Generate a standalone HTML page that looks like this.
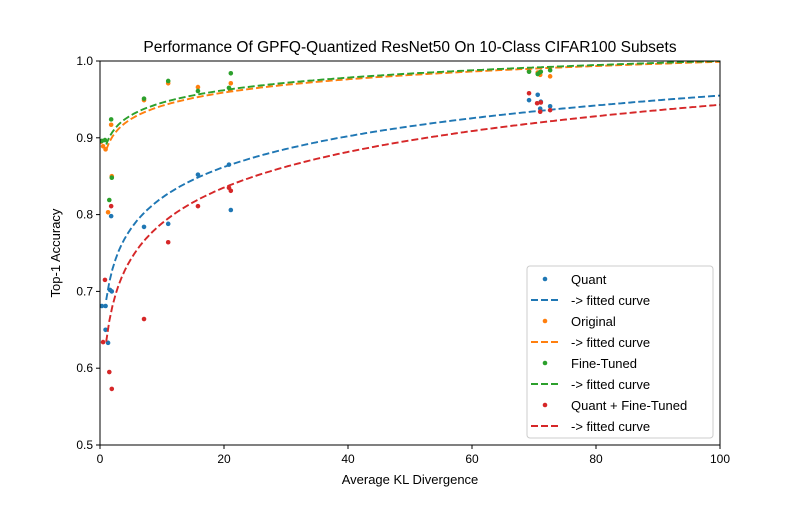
<!DOCTYPE html>
<html><head><meta charset="utf-8"><style>
body{margin:0;background:#fff}
svg{font-family:"Liberation Sans","DejaVu Sans",sans-serif}
</style></head><body>
<svg id="c" width="800" height="500" xmlns="http://www.w3.org/2000/svg"></svg>
<script>
const quantX=[0.3,0.9,0.9,1.3,1.6,1.9,1.8,7.1,11,15.8,20.8,21.1,69.2,70.6,71.1,72.6,71];
const quantY=[0.681,0.681,0.650,0.633,0.702,0.700,0.798,0.784,0.788,0.852,0.865,0.806,0.949,0.956,0.947,0.941,0.938];
const origX=[0.2,0.5,0.9,1.3,1.9,1.8,7.1,11,15.8,21,21.1,69.2,70.6,71,72.6];
const origY=[0.895,0.889,0.885,0.803,0.850,0.917,0.949,0.971,0.966,0.962,0.971,0.987,0.985,0.982,0.980];
const ftX=[0.3,0.8,1.5,1.9,1.8,7.1,11,15.8,20.8,21.1,69.2,70.6,71.1,72.6,70.9];
const ftY=[0.896,0.897,0.819,0.848,0.924,0.951,0.974,0.961,0.965,0.984,0.986,0.983,0.986,0.988,0.985];
const qftX=[0.8,0.5,1.5,1.9,1.8,7.1,11,15.8,20.8,21.1,69.2,70.5,71.1,71,72.6];
const qftY=[0.715,0.634,0.595,0.573,0.811,0.664,0.764,0.811,0.835,0.831,0.958,0.945,0.946,0.934,0.936];
const fitA=[0.955,0.999,1.0,0.943];
const fitB=[0.0578,0.0249,0.0236,0.067];
const colors=['#1f77b4','#ff7f0e','#2ca02c','#d62728'];
const names=['Quant','Original','Fine-Tuned','Quant + Fine-Tuned'];
const xTicks=[0,20,40,60,80,100];
const yTicks=[0.5,0.6,0.7,0.8,0.9,1.0];
const NS='http://www.w3.org/2000/svg';
const svg=document.getElementById('c');
const L=100,R=720,T=61,B=445;
const xs=v=>L+(v-0)/100*(R-L);
const ys=v=>B-(v-0.5)/0.5*(B-T);
function mk(t,a,p){const e=document.createElementNS(NS,t);for(const k in a)e.setAttribute(k,a[k]);(p||svg).appendChild(e);return e;}
let e=mk('text',{x:410,y:52,'text-anchor':'middle','font-size':15.5});e.textContent='Performance Of GPFQ-Quantized ResNet50 On 10-Class CIFAR100 Subsets';


xTicks.forEach(t=>{mk('line',{x1:xs(t),x2:xs(t),y1:B,y2:B+4,stroke:'#000'});
const tx=mk('text',{x:xs(t),y:B+18,'text-anchor':'middle','font-size':12});tx.textContent=t;

});
yTicks.forEach(t=>{mk('line',{x1:L-4,x2:L,y1:ys(t),y2:ys(t),stroke:'#000'});
const tx=mk('text',{x:L-7,y:ys(t)+4,'text-anchor':'end','font-size':12});tx.textContent=t.toFixed(1);

});
e=mk('text',{x:410,y:484,'text-anchor':'middle','font-size':13});e.textContent='Average KL Divergence';


e=mk('text',{x:60,y:253,'text-anchor':'middle','font-size':13,transform:'rotate(-90 60 253)'});e.textContent='Top-1 Accuracy';


const clip=mk('clipPath',{id:'cp'});mk('rect',{x:L,y:T,width:R-L,height:B-T},clip);
const series=[[quantX,quantY],[origX,origY],[ftX,ftY],[qftX,qftY]];
series.forEach((s,i)=>{
 const g=mk('g',{'clip-path':'url(#cp)'});
 
 
 s[0].forEach((x,j)=>{const c=mk('circle',{cx:xs(x),cy:ys(s[1][j]),r:2.3,fill:colors[i]},g);
  
  });
 let d='';for(let k=0;k<=200;k++){const x=1+k*(99.5/200);const y=fitA[i]+fitB[i]*Math.log(x/100);d+=(k?'L':'M')+xs(x).toFixed(1)+','+ys(y).toFixed(1);}
 const p=mk('path',{d:d,fill:'none',stroke:colors[i],'stroke-width':1.9,'stroke-dasharray':'7,3'},g);
 
 
});
mk('rect',{x:L,y:T,width:R-L,height:B-T,fill:'none',stroke:'#000','stroke-width':1});
const lg=mk('g',{});


mk('rect',{x:527,y:266,width:186,height:172,rx:3,fill:'#fff','fill-opacity':0.8,stroke:'#ccc'},lg);
names.forEach((n,i)=>{
 const y1=279+i*42,y2=y1+21;
 mk('circle',{cx:545,cy:y1,r:2.3,fill:colors[i]},lg);
 let t=mk('text',{x:571,y:y1+5,'font-size':13},lg);t.textContent=n;
 
 
 mk('line',{x1:531,x2:559,y1:y2,y2:y2,stroke:colors[i],'stroke-width':1.9,'stroke-dasharray':'7,3'},lg);
 t=mk('text',{x:571,y:y2+5,'font-size':13},lg);t.textContent='-> fitted curve';
 
 
});
</script>
</body></html>
